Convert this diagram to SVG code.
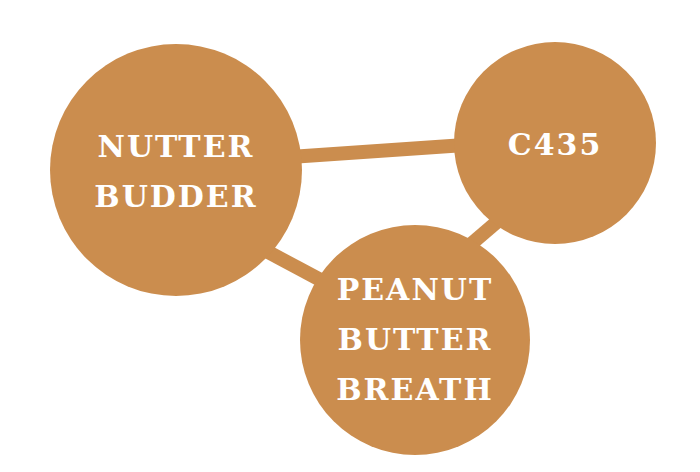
<svg xmlns="http://www.w3.org/2000/svg" width="700" height="472" viewBox="0 0 700 472">
<style>
.n{fill:#CB8D4E}
.c{stroke:#CB8D4E;stroke-width:14;fill:none}
text{fill:#fff;font-family:"DejaVu Serif","Liberation Serif",serif;font-weight:bold;font-size:30px;text-anchor:middle;letter-spacing:2px}
</style>
<rect width="700" height="472" fill="#fff"/>
<g id="connectors">
<line class="c" x1="290" y1="157" x2="465" y2="145"/>
<line class="c" x1="255" y1="245" x2="330" y2="285"/>
<line class="c" x1="470" y1="245" x2="505" y2="215"/>
</g>
<g id="nutter"><circle class="n" cx="176" cy="170" r="126"/><text x="176" y="157">NUTTER</text><text x="176" y="207">BUDDER</text></g>
<g id="c435"><circle class="n" cx="555" cy="143" r="101"/><text x="555" y="155">C435</text></g>
<g id="peanut"><circle class="n" cx="415" cy="340" r="115"/><text x="415" y="300">PEANUT</text><text x="415" y="350">BUTTER</text><text x="415" y="400">BREATH</text></g>
</svg>
